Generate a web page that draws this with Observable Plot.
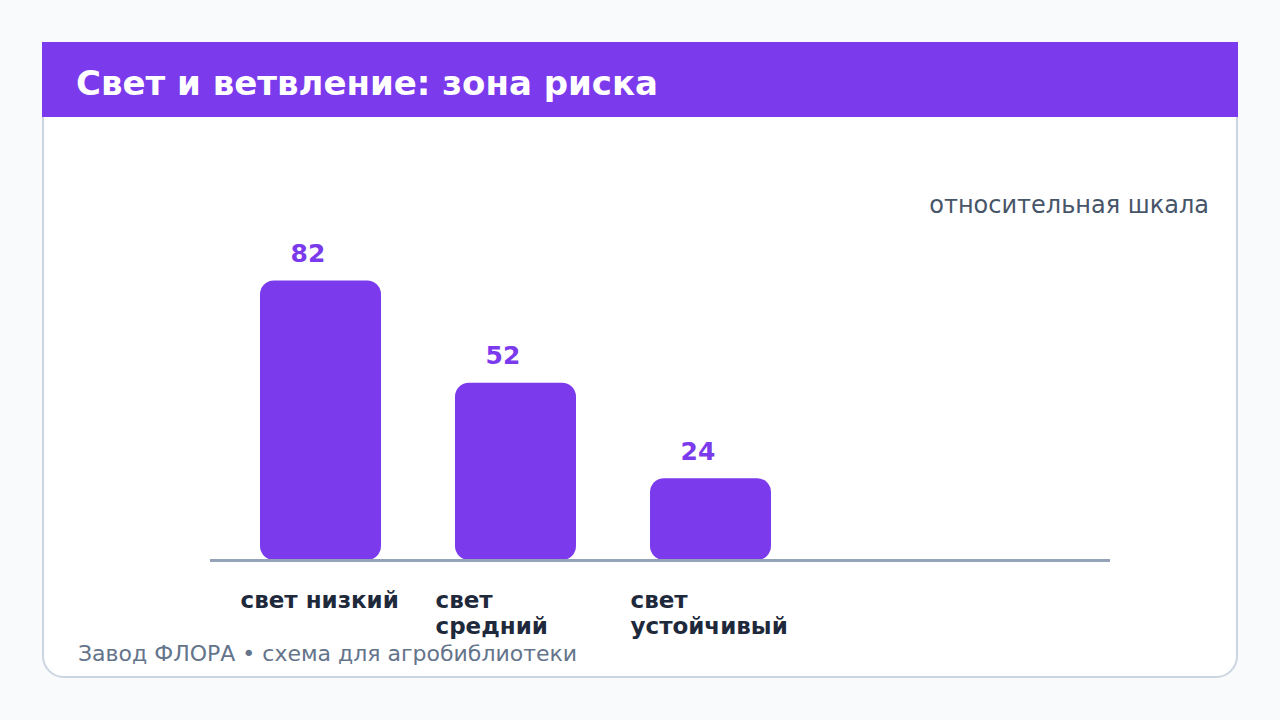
<!DOCTYPE html>
<html>
<head>
<meta charset="utf-8">
<script src="https://cdn.jsdelivr.net/npm/d3@7"></script>
<script src="https://cdn.jsdelivr.net/npm/@observablehq/plot@0.6"></script>
<style>
  html, body { margin: 0; padding: 0; background: #f8fafc; width: 1280px; height: 720px; overflow: hidden; font-family: "DejaVu Sans", sans-serif; }
  #card { position: absolute; left: 42px; top: 42px; width: 1192px; height: 632px; background: #ffffff; border: 2px solid #cbd5e1; border-radius: 0 0 22px 22px; }
  #header { position: absolute; left: 42px; top: 42px; width: 1196px; height: 75px; background: #7c3aed; }
  #title { position: absolute; left: 76px; top: 63px; margin: 0; font-size: 34px; font-weight: bold; color: #ffffff; line-height: 40px; white-space: nowrap; }
  #note { position: absolute; right: 71px; top: 192px; font-size: 24px; color: #475569; line-height: 26px; white-space: nowrap; }
  #chart { position: absolute; left: 42px; top: 117px; }
  #footer { position: absolute; left: 78px; top: 641px; font-size: 22px; color: #64748b; line-height: 26px; white-space: nowrap; }
</style>
</head>
<body>
<div id="card"></div>
<div id="header"></div>
<h1 id="title">Свет и ветвление: зона риска</h1>
<div id="note">относительная шкала</div>
<div id="chart"></div>
<div id="footer">Завод ФЛОРА • схема для агробиблиотеки</div>
<script>
const categories = ["свет низкий", "свет средний", "свет устойчивый"];
const values = [82, 52, 24];
const tickLabels = ["свет низкий", "свет\nсредний", "свет\nустойчивый"];

const data = categories.map((c, i) => ({category: c, value: values[i], label: tickLabels[i]}));

const chart = Plot.plot({
  width: 1196,
  height: 520,
  marginLeft: 168,
  marginRight: 128,
  marginTop: 102,
  marginBottom: 77,
  style: {background: "transparent", fontFamily: "DejaVu Sans, sans-serif", overflow: "visible"},
  x: {domain: categories, range: [168, 779], paddingInner: 0.38, paddingOuter: 0.256, axis: null},
  y: {domain: [0, 100], axis: null},
  marks: [
    Plot.barY(data, {x: "category", y: "value", fill: "#7c3aed", rx: 14, ry: 14}),
    Plot.ruleY([0], {stroke: "#94a3b8", strokeWidth: 3}),
    Plot.text(data, {x: "category", y: "value", text: d => String(d.value), dy: -27, dx: -13, fill: "#7c3aed", fontSize: 25, fontWeight: "bold"}),
    Plot.text(data, {x: "category", y: 0, text: "label", textAnchor: "start", lineAnchor: "top", dx: -80.5, dy: 29, lineHeight: 1.13, fill: "#1e293b", fontSize: 23, fontWeight: "bold"})
  ]
});
document.getElementById("chart").appendChild(chart);
</script>
</body>
</html>
